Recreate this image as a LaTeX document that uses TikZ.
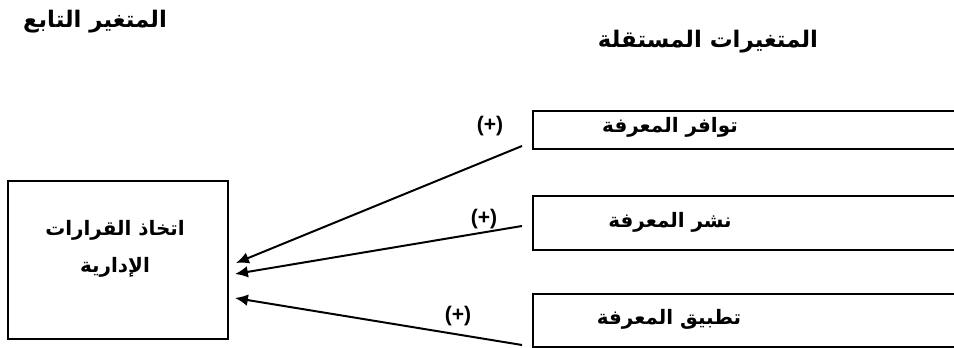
\documentclass[tikz,border=0pt]{standalone}
\usepackage{fontspec}
\TeXXeTstate=1
\newfontfamily\arabicfont[Script=Arabic]{DejaVu Sans}
\newfontfamily\signfont{Liberation Sans}
\usetikzlibrary{arrows.meta,positioning}

\begin{document}
\begin{tikzpicture}[x=0.03cm,y=-0.03cm]
			\tikzstyle{Box}		= [draw, line width=1.3pt, inner sep=0pt]
			\tikzstyle{Txt}		= [font=\arabicfont\bfseries\fontsize{17}{31}\selectfont, align=center]
			\tikzstyle{Head}	= [font=\arabicfont\bfseries\fontsize{19.5}{22}\selectfont]
			\tikzstyle{Sign}	= [font=\signfont\bfseries\fontsize{18}{20}\selectfont]
			\tikzstyle{Link}	= [line width=1.7pt, -{Latex[length=11pt,width=10pt]}]

			\useasboundingbox (0,0) rectangle (954,348);

			\node (hdep) at (95,22) [Head] {\beginR المتغير التابع\endR};
			\node (hind) at (708,42) [Head] {\beginR المتغيرات المستقلة\endR};

			\node (dv) at (118,260) [Box, minimum width=6.6cm, minimum height=4.74cm] {};
			\node (dvt) at (115,249) [Txt] {\beginR اتخاذ القرارات\endR\\\beginR الإدارية\endR};

			\node (k1) at (746.5,130) [Box, minimum width=12.81cm, minimum height=1.14cm] {};
			\node (k2) at (746.5,223) [Box, minimum width=12.81cm, minimum height=1.62cm] {};
			\node (k3) at (746.5,320.5) [Box, minimum width=12.81cm, minimum height=1.59cm] {};
			\node (k1t) at (670,127) [Txt] {\beginR توافر المعرفة\endR};
			\node (k2t) at (670,222) [Txt] {\beginR نشر المعرفة\endR};
			\node (k3t) at (669,319) [Txt] {\beginR تطبيق المعرفة\endR};

			\coordinate (s1) at (522,146);
			\coordinate (s2) at (522,226);
			\coordinate (s3) at (522,345);
			\coordinate (t1) at (236,263);
			\coordinate (t2) at (235,274);
			\coordinate (t3) at (235,298);

			\draw (s1) to (t1) [Link];
			\draw (s2) to (t2) [Link];
			\draw (s3) to (t3) [Link];

			\node (p1) at (490,126) [Sign] {(+)};
			\node (p2) at (484,219) [Sign] {(+)};
			\node (p3) at (458,316) [Sign] {(+)};
		\end{tikzpicture}
\end{document}
